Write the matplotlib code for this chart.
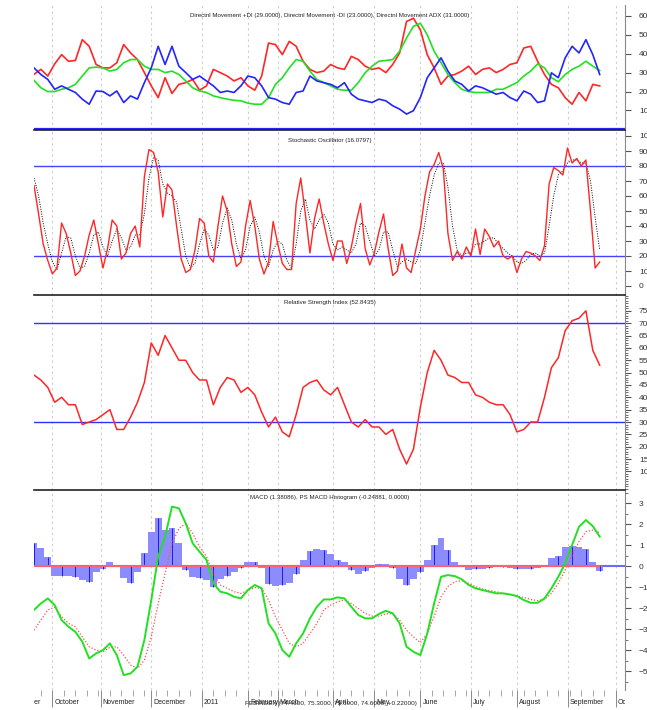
import numpy as np
import matplotlib
matplotlib.use("Agg")
import matplotlib.pyplot as plt
from matplotlib.ticker import FixedLocator, MultipleLocator
from matplotlib.transforms import Bbox

plt.rcParams['font.family'] = ['Liberation Sans Narrow', 'Liberation Sans', 'DejaVu Sans']

# bar index where each month starts (first one falls left of the visible range)
month_pos = [-13, 8, 29, 51, 73, 93, 106, 130, 148, 168, 190, 210, 232, 253]
month_names = ["September", "October", "November", "December", "2011", "February",
               "March", "April", "May", "June", "July", "August", "September", "October"]

# directional movement, sampled every 3 bars
plus_di = [32.5, 29, 26.4, 21.2, 23, 21.2, 19.5, 16, 13.3, 20.3, 20, 17.7, 20.3, 14.2,
           17.7, 16, 24.7, 32.5, 43.9, 34.3, 43.9, 33.4, 30, 26.4, 28.2, 25.6, 23, 19.5,
           20.3, 19.5, 23, 28.2, 27.3, 23, 16.8, 16, 14.2, 13.3, 19.5, 20.3, 28.2, 25.6,
           24.7, 23.8, 22, 24.7, 18.6, 16, 15.1, 14.2, 16, 15.1, 12.5, 10.7, 8.1, 9.9,
           16.8, 27.3, 32.5, 37.8, 30.8, 25.6, 23.8, 20.3, 23, 22, 20.3, 18.6, 19.5, 16.8,
           15.1, 20.3, 18.6, 14.2, 15.1, 29.9, 27.3, 37.8, 43.9, 40.4, 47.4, 39.5, 29]
minus_di = [29.1, 31.7, 28.2, 34.6, 39.5, 36, 36.4, 47.4, 43.9, 34.3, 32.5, 32.5, 35.2, 44.8,
            40.4, 36.9, 30, 23, 16.8, 27.3, 19, 23.8, 24.7, 26.4, 20.7, 23, 31.7, 30,
            28.2, 25.6, 27.3, 23, 20.7, 28.2, 45.6, 44.8, 39.5, 46.5, 43.9, 36, 31.7, 30,
            30.8, 34.3, 32.5, 31.7, 38.6, 36.9, 33.4, 31.7, 32.5, 30, 34.3, 40.4, 57, 58.7,
            52.6, 39.5, 32.5, 23.8, 28.2, 29, 30.8, 33.4, 29, 31.7, 32.5, 30, 31.7, 34.3,
            35.2, 43, 43.9, 36, 29, 23.8, 22, 16.8, 13.3, 19.5, 15.1, 23.8, 23]
adx = [25.9, 22, 20, 20, 21.2, 22, 23.8, 28.2, 32.5, 32.9, 32.5, 30.8, 31.7, 35.2,
       36.9, 36.9, 33.4, 31.7, 31.7, 30, 30.8, 29, 25.6, 22, 20.3, 19.5, 17.7, 16.8,
       16, 15.4, 15.1, 13.9, 13.3, 13.3, 16.8, 23.8, 27.3, 32.5, 36.9, 36, 30.8, 26.4,
       24.7, 23, 21.2, 20.7, 20.7, 24.7, 29.9, 33.4, 36, 36.4, 36.9, 41.3, 48.3, 54.4,
       56.1, 50, 41.3, 35.2, 29, 24.7, 21.2, 20, 19.5, 19.5, 19.5, 21.2, 21.2, 23,
       24.7, 28.2, 30.8, 34.6, 32.5, 27.3, 25.2, 29, 31.7, 33.4, 36, 33.4, 31.1]

# stochastic %K / %D, sampled every 2 bars
stoch_k = [67, 48, 28, 17, 8, 12, 42, 35, 22, 7, 10, 20, 34, 44, 28, 12, 25, 44, 40, 18,
           22, 35, 40, 26, 73, 91, 89, 76, 46, 68, 64, 40, 18, 9, 11, 24, 45, 42, 20, 16,
           40, 60, 50, 28, 13, 16, 40, 57, 40, 18, 8, 16, 43, 28, 15, 11, 11, 55, 72, 48,
           22, 45, 58, 42, 28, 17, 30, 30, 15, 26, 42, 55, 25, 14, 22, 36, 48, 25, 7, 10,
           28, 12, 9, 24, 38, 60, 76, 81, 89, 78, 35, 17, 23, 18, 26, 20, 38, 21, 38, 33,
           26, 30, 20, 18, 20, 9, 18, 23, 22, 20, 17, 27, 68, 79, 77, 74, 92, 82, 85, 80,
           84, 50, 12, 16]
stoch_d = [72, 60, 42, 28, 16, 11, 22, 33, 32, 20, 12, 13, 22, 34, 36, 26, 20, 30, 38, 32,
           24, 26, 34, 34, 48, 72, 86, 84, 68, 62, 60, 56, 38, 20, 12, 15, 28, 38, 34, 24,
           26, 42, 52, 44, 28, 18, 24, 40, 46, 36, 20, 13, 24, 30, 28, 17, 12, 28, 50, 58,
           44, 38, 44, 48, 42, 28, 24, 26, 24, 22, 28, 42, 40, 30, 20, 24, 36, 36, 24, 13,
           16, 18, 16, 15, 24, 42, 60, 74, 82, 82, 66, 40, 24, 20, 22, 22, 28, 28, 30, 32,
           32, 28, 25, 22, 20, 16, 15, 17, 21, 22, 20, 22, 40, 60, 74, 77, 82, 84, 84, 82,
           82, 70, 46, 24]

# relative strength index, every 3 bars
rsi = [49, 47, 44, 38, 40, 37, 37, 29, 30, 31, 33, 35, 27, 27, 32, 38, 46, 62, 57, 65,
       60, 55, 55, 50, 47, 47, 37, 44, 48, 47, 42, 44, 41, 34, 28, 32, 26, 24, 33, 44,
       46, 47, 43, 41, 44, 37, 30, 28, 31, 28, 28, 25, 27, 19, 13, 19, 36, 50, 59, 55,
       49, 48, 46, 46, 41, 40, 38, 37, 37, 33, 26, 27, 30, 30, 40, 52, 56, 67, 71, 72,
       75, 59, 53]

# MACD, signal and histogram, every 3 bars
macd = [-2.09, -1.78, -1.54, -1.86, -2.57, -2.89, -3.13, -3.6, -4.4, -4.16, -4.0, -3.68,
        -4.24, -5.19, -5.11, -4.79, -3.52, -1.62, 0.45, 1.4, 2.83, 2.75, 2.03, 1.08, 0.68,
        0.29, -0.82, -1.22, -1.3, -1.46, -1.54, -1.14, -0.9, -1.06, -2.73, -3.21, -4.0,
        -4.32, -3.68, -3.21, -2.49, -1.94,
        -1.59, -1.59, -1.49, -1.54, -1.94, -2.33, -2.49, -2.49, -2.28, -2.13, -2.25, -2.73,
        -3.84, -4.08, -4.24, -3.21, -1.78, -0.51, -0.43, -0.48, -0.63, -0.9, -1.06, -1.14,
        -1.22, -1.3, -1.3, -1.35, -1.43, -1.62, -1.75, -1.75, -1.54, -1.06, -0.51, 0.13,
        1.0, 1.87, 2.19, 1.9, 1.4]
macd_signal = [-3.05, -2.57, -2.09, -1.97, -2.41, -2.73, -2.89, -3.37, -3.84, -4.0, -4.08,
               -3.87, -3.84, -4.24, -4.71, -4.87, -4.48, -3.37, -1.78, -0.35, 1.08, 1.79,
               2.03, 1.56, 0.92, 0.45, -0.35, -0.9, -1.06, -1.22, -1.3, -1.17, -1.02, -1.06,
               -1.62, -2.41, -3.05, -3.68, -3.84, -3.68, -3.21, -2.73,
               -2.09, -1.86, -1.7, -1.62, -1.78, -2.02, -2.25, -2.38, -2.38, -2.28, -2.25,
               -2.57, -3.05, -3.37, -3.65, -3.21, -2.41, -1.46, -0.98, -0.74, -0.7, -0.82,
               -0.98, -1.09, -1.17, -1.22, -1.3, -1.36, -1.43, -1.49, -1.59, -1.65, -1.59,
               -1.3, -0.82, -0.19, 0.52, 1.16, 1.64, 1.71, 1.59]
macd_hist = [1.08, 0.84, 0.45, -0.45, -0.45, -0.45, -0.5, -0.65, -0.75, -0.3, -0.15, 0.2,
             0.05, -0.55, -0.8, -0.3, 0.6, 1.6, 2.3, 1.7, 1.8, 1.1, -0.2, -0.5, -0.55,
             -0.65, -1.0, -0.6, -0.45, -0.3, -0.1, 0.2, 0.2, -0.1, -0.85, -0.95, -0.9, -0.8,
             -0.4, 0.3, 0.7, 0.8,
             0.75, 0.55, 0.3, 0.2, -0.2, -0.4, -0.25, -0.1, 0.1, 0.1, -0.1, -0.6, -0.9,
             -0.6, -0.3, 0.3, 1.0, 1.35, 0.75, 0.2, 0.05, -0.2, -0.15, -0.12, -0.1, -0.05,
             -0.05, -0.08, -0.15, -0.15, -0.12, -0.1, 0.05, 0.4, 0.5, 0.9, 0.95, 0.9, 0.8,
             0.2, -0.25]

x3 = np.arange(len(adx)) * 3
x2 = np.arange(len(stoch_k)) * 2

W, H = 647, 710
fig = plt.figure(figsize=(W / 100, H / 100), dpi=100)

def panel(top, bottom):
    return fig.add_axes([34 / W, 1 - bottom / H, (625 - 34) / W, (bottom - top) / H])

ax1 = panel(5, 130)
ax2 = panel(130, 295)
ax3 = panel(295, 490)
ax4 = panel(490, 690)
axes = [ax1, ax2, ax3, ax4]

blue = '#2424ff'
red = '#ff2626'
green = '#22e022'

# directional movement
ax1.plot(x3, minus_di, color=red, lw=1.2)
ax1.plot(x3, adx, color=green, lw=1.2)
ax1.plot(x3, plus_di, color=blue, lw=1.2)
ax1.axhline(0, color=blue, lw=1.6)
ax1.set_ylim(-0.3, 65.7)
ax1.set_yticks(range(10, 61, 10))

# stochastic
ax2.axhline(80, color='#4444ff', lw=1)
ax2.axhline(20, color='#4444ff', lw=1)
ax2.plot(x2, stoch_d, color='black', lw=0.7, ls=(0, (1, 1.5)))
ax2.plot(x2, stoch_k, color=red, lw=1)
ax2.set_ylim(-6, 104)
ax2.set_yticks(range(0, 101, 10))

# rsi
ax3.axhline(70, color='#3030ff', lw=1)
ax3.axhline(30, color='#3030ff', lw=1)
ax3.plot(x3, rsi, color=red, lw=1.1)
ax3.set_ylim(2.5, 81.4)
ax3.set_yticks(range(10, 76, 5))
ax3.yaxis.set_minor_locator(MultipleLocator(1))

# macd
ax4.bar(x3, macd_hist, width=3, color='#8c8cff', linewidth=0, zorder=2)
ax4.vlines(x3[::2], 0, macd_hist[::2], color='#1c1cf0', lw=0.7, zorder=2)
ax4.axhline(0, color='#6a6aff', lw=1.5, zorder=1)
ax4.hlines(0, x3[0], x3[-1], color='#ff6070', lw=1.5, zorder=3)
ax4.plot(x3, macd_signal, color='#ff5050', lw=0.9, ls=(0, (1, 1.5)), zorder=4)
ax4.plot(x3, macd, color=green, lw=1.4, zorder=5)
ax4.set_ylim(-5.9, 3.62)
ax4.set_yticks(range(-5, 4))
ax4.yaxis.set_minor_locator(MultipleLocator(0.5))

titles = [
    (ax1, 0.912, "Directnl Movement +DI (29.0000), Directnl Movement -DI (23.0000), Directnl Movement ADX (31.0000)"),
    (ax2, 0.939, "Stochastic Oscillator (16.0797)"),
    (ax3, 0.959, "Relative Strength Index (52.8435)"),
    (ax4, 0.965, "MACD (1.38086), PS MACD Histogram (-0.24881, 0.0000)"),
]
for ax, ty, s in titles:
    ax.text(0.5, ty, s, transform=ax.transAxes, ha='center', va='center',
            fontsize=4.4, color='#222222')

for i, ax in enumerate(axes):
    ax.set_xlim(0, 257)
    ax.xaxis.set_major_locator(FixedLocator(month_pos[1:]))
    ax.grid(axis='x', color='#cccccc', ls=(0, (2, 3)), lw=0.8)
    ax.set_axisbelow(True)
    ax.yaxis.tick_right()
    ax.tick_params(axis='y', which='major', direction='out', length=4, width=0.8,
                   pad=6, labelsize=6, colors='#555555', labelcolor='#333333')
    ax.tick_params(axis='y', which='minor', direction='out', length=2, width=0.6,
                   colors='#555555')
    ax.spines['left'].set_visible(False)
    ax.spines['bottom'].set_visible(False)
    ax.spines['right'].set_color('#888888')
    if i == 0:
        ax.spines['top'].set_visible(False)
    else:
        ax.spines['top'].set_color('#222222')
        ax.spines['top'].set_linewidth(1.2)
    if i < 3:
        ax.tick_params(axis='x', length=0, labelbottom=False)

# month axis along the bottom
ax4.xaxis.set_minor_locator(FixedLocator(np.arange(3, 257, 5)))
ax4.tick_params(axis='x', which='major', direction='out', length=12, width=0.6,
                colors='#777777', labelbottom=False)
ax4.tick_params(axis='x', which='minor', direction='out', length=4, width=0.6,
                colors='#999999')
clip = Bbox.from_extents(34, 0, 625, H)
for pos, name in zip(month_pos, month_names):
    t = ax4.text(pos + 0.9, -0.065, name, transform=ax4.get_xaxis_transform(),
                 ha='left', va='center', fontsize=5, color='#222222')
    t.set_clip_box(clip)
    t.set_clip_on(True)

fig.text(245 / W, 1 - 703 / H, "FEBINDEX (74.4600, 75.3000, 73.6900, 74.6000, +0.22000)",
         ha='left', va='center', fontsize=4.6, color='#222222')

fig.savefig("out.png", dpi=100)
